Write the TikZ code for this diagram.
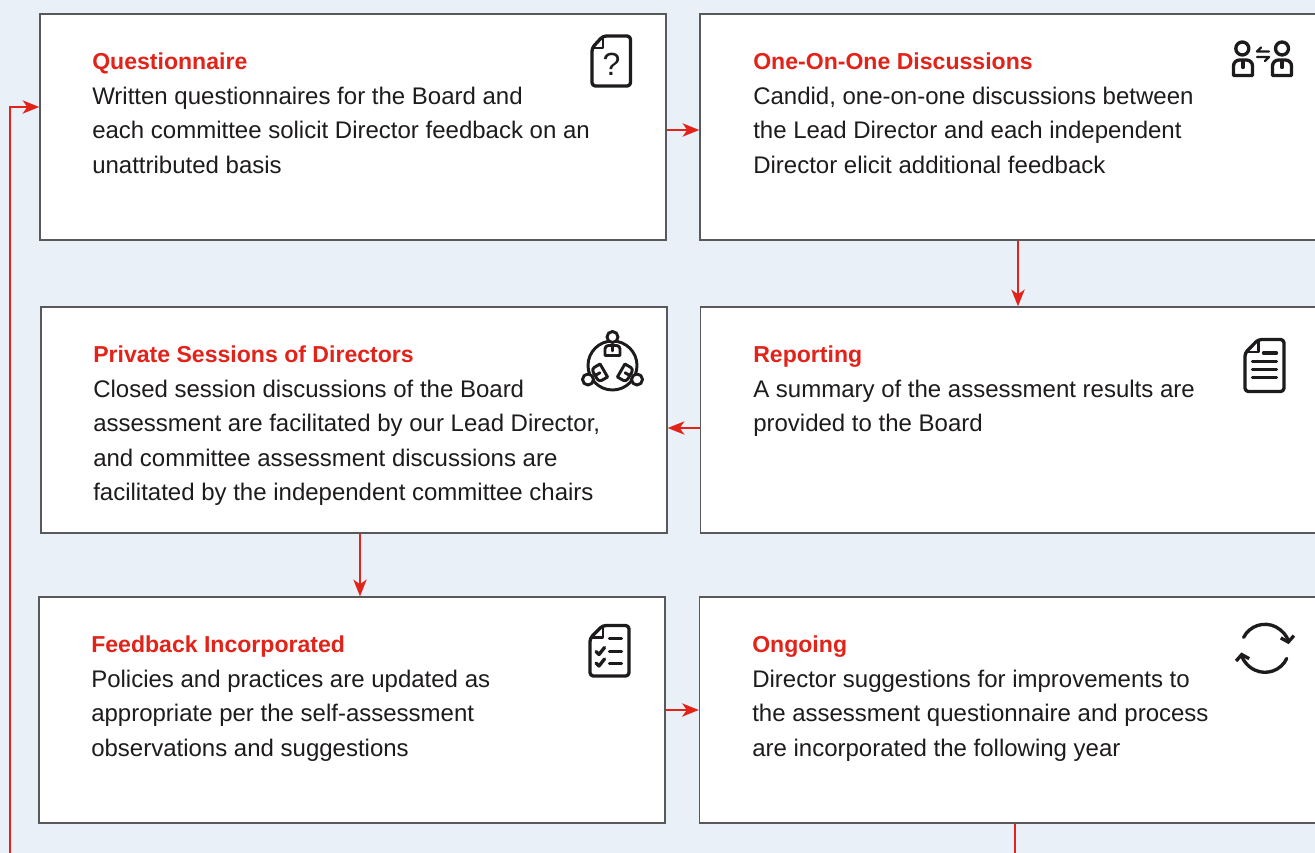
\documentclass[tikz,border=0pt]{standalone}
\usepackage{fontspec}
\setmainfont{Liberation Sans}
\usetikzlibrary{arrows.meta}
\definecolor{bg}{HTML}{E9F0F8}
\definecolor{accent}{HTML}{E2231A}
\definecolor{bordergray}{HTML}{58595B}
\definecolor{ink}{HTML}{1E1B1C}
\tikzset{
  stepbox/.style={draw=bordergray, line width=1.1pt, fill=white, inner sep=0pt},
  ttl/.style={anchor=base west, inner sep=0pt, text=accent, font=\fontsize{17.3}{20}\selectfont\bfseries},
  txt/.style={anchor=base west, inner sep=0pt, text=ink, font=\fontsize{18}{20}\selectfont},
  flowline/.style={draw=accent, line width=1.2pt},
  flow/.style={flowline, -{Stealth[length=12.5pt,width=10pt,inset=3.5pt]}},
  icon/.style={draw=ink, line width=2.5pt, line join=round, line cap=round},
  thinicon/.style={icon, line width=2.2pt},
}
\begin{document}
\begin{tikzpicture}[x=0.75pt,y=-0.75pt]
\path[use as bounding box, fill=bg] (0,0) rectangle (1315,853);
\clip (0,0) rectangle (1315,853);

% boxes
\node[stepbox, minimum width=469.5pt, minimum height=169.5pt] (b1) at (353,127) {};
\node[stepbox, minimum width=480pt, minimum height=169.5pt] (b2) at (1020,127) {};
\node[stepbox, minimum width=469.5pt, minimum height=169.5pt] (b3) at (354,420) {};
\node[stepbox, minimum width=480pt, minimum height=169.5pt] (b4) at (1020.5,420) {};
\node[stepbox, minimum width=469.5pt, minimum height=169.5pt] (b5) at (352,710) {};
\node[stepbox, minimum width=480pt, minimum height=169.5pt] (b6) at (1019.5,710) {};

% connectors
\coordinate (x2) at (1018,0);
\coordinate (x3) at (360,0);
\coordinate (exitpt) at (1015,853);
\coordinate (loopstart) at (10,853);
\coordinate (loopy) at (0,107);
\draw[flow] ([yshift=-2.25pt]b1.east) -- ([yshift=-2.25pt]b2.west);
\draw[flow] (b2.south -| x2) -- (b4.north -| x2);
\draw[flow] ([yshift=-6pt]b4.west) -- ([yshift=-6pt]b3.east);
\draw[flow] (b3.south -| x3) -- (b5.north -| x3);
\draw[flow] (b5.east) -- (b6.west);
\draw[flowline] (b6.south -| exitpt) -- (exitpt);
\draw[flow] (loopstart) |- (b1.west |- loopy);

% texts box 1
\node[ttl] (t1) at (92,69) {Questionnaire};
\node[txt] (t1a) at (92,104) {Written questionnaires for the Board and};
\node[txt] (t1b) at (92,138.5) {each committee solicit Director feedback on an};
\node[txt] (t1c) at (92,173) {unattributed basis};
% box 2
\node[ttl] (t2) at (753,69) {One-On-One Discussions};
\node[txt] (t2a) at (753,104) {Candid, one-on-one discussions between};
\node[txt] (t2b) at (753,138.5) {the Lead Director and each independent};
\node[txt] (t2c) at (753,173) {Director elicit additional feedback};
% box 3
\node[ttl] (t3) at (93,362) {Private Sessions of Directors};
\node[txt] (t3a) at (93,397) {Closed session discussions of the Board};
\node[txt] (t3b) at (93,431.5) {assessment are facilitated by our Lead Director,};
\node[txt] (t3c) at (93,466) {and committee assessment discussions are};
\node[txt] (t3d) at (93,500.5) {facilitated by the independent committee chairs};
% box 4
\node[ttl] (t4) at (753,362) {Reporting};
\node[txt] (t4a) at (753,397) {A summary of the assessment results are};
\node[txt] (t4b) at (753,431.5) {provided to the Board};
% box 5
\node[ttl] (t5) at (91,652) {Feedback Incorporated};
\node[txt] (t5a) at (91,687) {Policies and practices are updated as};
\node[txt] (t5b) at (91,721.5) {appropriate per the self-assessment};
\node[txt] (t5c) at (91,756) {observations and suggestions};
% box 6
\node[ttl] (t6) at (752,652) {Ongoing};
\node[txt] (t6a) at (752,687) {Director suggestions for improvements to};
\node[txt] (t6b) at (752,721.5) {the assessment questionnaire and process};
\node[txt] (t6c) at (752,756) {are incorporated the following year};

% icon 1: question document
\draw[icon, rounded corners=2.5pt] (603,36) -- (630.5,36) -- (630.5,86) -- (592,86) -- (592,48) -- cycle;
\draw[thinicon, line width=1.8pt] (603,37) -- (603,48) -- (593,48);
\node[text=ink, inner sep=0pt, font=\fontsize{24}{24}\selectfont] (q1) at (611.5,64.5) {?};

% icon 2: two persons exchange
\draw[icon] (1242.3,48.5) circle (6.5);
\draw[icon] (1282,48.5) circle (6.5);
\draw[icon] (1233.5,75.5) [rounded corners=4.5pt] -- (1233.5,60) -- (1252.5,60) [sharp corners] -- (1252.5,75.5) -- cycle;
\draw[icon] (1272.5,75.5) [rounded corners=4.5pt] -- (1272.5,60) -- (1291.5,60) [sharp corners] -- (1291.5,75.5) -- cycle;
\draw[icon] (1243,61) -- (1243,67.5);
\draw[icon] (1282,61) -- (1282,67.5);
\draw[icon, line width=1.8pt] (1269,51.5) -- (1257,51.5) -- (1261,47.5);
\draw[icon, line width=1.8pt] (1257,57) -- (1269,57) -- (1265,61);

% icon 3: three persons around a table
\draw[thinicon] (612.5,365.5) circle (24.5);
\foreach \px/\py/\rot in {612.5/350.5/0, 599.5/373/120, 625.5/373/-120}{
  \begin{scope}[shift={(\px,\py)}, rotate=\rot]
    \draw[thinicon] (-7.5,5) [rounded corners=2.5pt] -- (-7.5,-5) -- (7.5,-5) [sharp corners] -- (7.5,5) -- cycle;
    \draw[thinicon] (0,-5) -- (0,0.5);
  \end{scope}
}
\draw[thinicon, fill=white] (612.5,337) circle (5.5);
\draw[thinicon, fill=white] (588,379.5) circle (5.5);
\draw[thinicon, fill=white] (637,379.5) circle (5.5);

% icon 4: document with lines
\draw[icon, rounded corners=2.5pt] (1258.3,339.5) -- (1284,339.5) -- (1284,391.5) -- (1245,391.5) -- (1245,353) -- cycle;
\draw[thinicon, line width=1.8pt] (1258.3,340.5) -- (1258.3,352) -- (1246,352);
\draw[icon] (1263.5,353) -- (1276.5,353);
\draw[icon] (1252.5,361.5) -- (1276.5,361.5);
\draw[icon] (1252.5,369.5) -- (1276.5,369.5);
\draw[icon] (1252.5,377.5) -- (1276.5,377.5);

% icon 5: checklist document
\draw[icon, rounded corners=2.5pt] (602.7,625.5) -- (629,625.5) -- (629,676) -- (590,676) -- (590,638.3) -- cycle;
\draw[thinicon, line width=1.8pt] (602.7,626.5) -- (602.7,637.5) -- (591,637.5);
\draw[icon] (609.5,638.3) -- (621.5,638.3);
\draw[icon] (609.5,651.7) -- (621.5,651.7);
\draw[icon] (609.5,663.3) -- (621.5,663.3);
\draw[icon] (596,651.5) -- (599,654.5) -- (604.5,647.5);
\draw[icon] (596,663) -- (599,666) -- (604.5,659);

% icon 6: refresh arrows
\draw[icon, -{Straight Barb[length=4pt,width=10pt]}] (1265,648.3) ++(-153:24) arc[start angle=-153, end angle=-10, radius=24];
\draw[icon, -{Straight Barb[length=4pt,width=10pt]}] (1265,648.3) ++(25:24) arc[start angle=25, end angle=170, radius=24];
\end{tikzpicture}
\end{document}
